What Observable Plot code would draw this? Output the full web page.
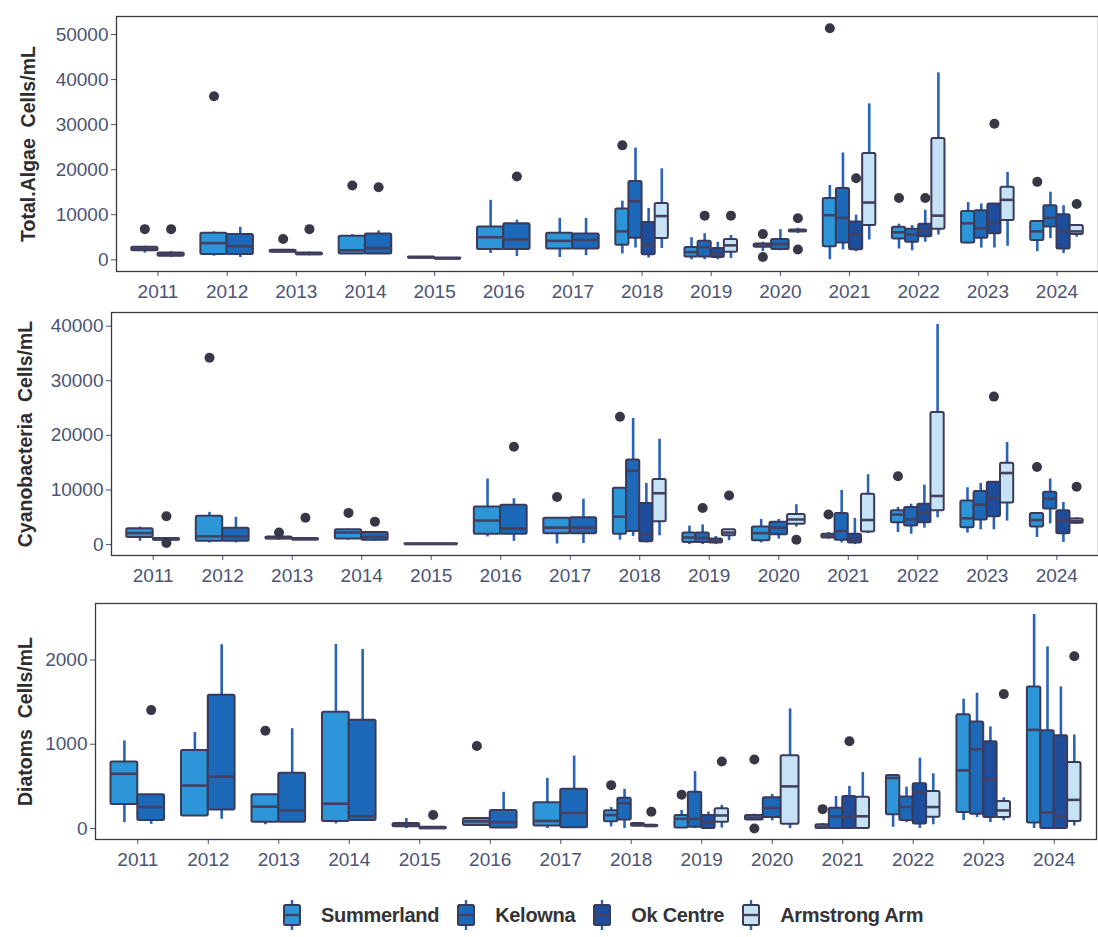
<!DOCTYPE html>
<html>
<head>
<meta charset="utf-8">
<script src="https://cdn.jsdelivr.net/npm/d3@7"></script>
<script src="https://cdn.jsdelivr.net/npm/@observablehq/plot@0.6"></script>
<style>
  html, body { margin: 0; padding: 0; background: #ffffff; }
  #page { position: relative; width: 1098px; height: 937px; overflow: hidden; font-family: "Liberation Sans", Arial, sans-serif; }
  #page svg.plot { display: block; }
  #legend { position: absolute; left: 283px; top: 899px; display: flex; align-items: center; }
  #legend .item { display: flex; align-items: center; margin-right: 18px; }
  #legend .lab { margin-left: 20px; font-size: 20px; font-weight: bold; color: #333338; letter-spacing: -0.3px; }
</style>
</head>
<body>
<div id="page"></div>
<script>
// ---------- data ----------
const years = [2011, 2012, 2013, 2014, 2015, 2016, 2017, 2018, 2019, 2020, 2021, 2022, 2023, 2024];
const siteCodes = ["S", "K", "O", "A"];
const siteNames = ["Summerland", "Kelowna", "Ok Centre", "Armstrong Arm"];
const siteColors = ["#2c96d8", "#1c69ba", "#1d4d9b", "#c6e2f5"];

// rows: [year, site, lowerWhisker, q1, median, q3, upperWhisker, outliers]
const totalAlgae = [
  [2011,"S",1500,2000,2400,2800,3000,[6800]],
  [2011,"K",500,800,1200,1500,1800,[6800]],
  [2012,"S",800,1200,3700,5900,6200,[36300]],
  [2012,"K",500,1200,3000,5600,7200,[]],
  [2013,"S",1500,1700,1900,2100,2300,[4600]],
  [2013,"K",900,1100,1300,1500,1700,[6800]],
  [2014,"S",1200,1300,2100,5200,5600,[16500]],
  [2014,"K",1300,1300,2600,5700,6400,[16100]],
  [2015,"S",300,400,500,600,700,[]],
  [2015,"K",100,200,300,400,500,[]],
  [2016,"S",1400,2300,5000,7300,13200,[]],
  [2016,"K",700,2300,4500,8000,8800,[18500]],
  [2017,"S",500,2400,4200,5900,9200,[]],
  [2017,"K",900,2400,4400,5700,9200,[]],
  [2018,"S",1300,3200,6300,11300,13000,[25400]],
  [2018,"K",2600,4800,13000,17400,24800,[]],
  [2018,"O",400,1100,3300,8300,11400,[]],
  [2018,"A",2500,4700,9700,12500,20200,[]],
  [2019,"S",0,600,1700,2700,4900,[]],
  [2019,"K",0,600,2800,4100,5800,[9800]],
  [2019,"O",0,500,1300,2500,3900,[]],
  [2019,"A",300,1700,3200,4500,5400,[9800]],
  [2020,"S",1800,2800,3200,3500,3900,[5700,600]],
  [2020,"K",2000,2300,3500,4500,6700,[]],
  [2020,"A",5800,6200,6400,6600,7000,[9200,2300]],
  [2021,"S",0,2900,9900,13600,16500,[51400]],
  [2021,"K",2200,3700,9300,15800,23700,[]],
  [2021,"O",1800,2200,5700,8400,9900,[18100]],
  [2021,"A",4400,7600,12700,23600,34600,[]],
  [2022,"S",2400,4600,6100,7200,7900,[13700]],
  [2022,"K",2000,3900,5600,6800,7600,[]],
  [2022,"O",3900,5100,6400,7900,11000,[13700]],
  [2022,"A",5500,6800,9800,26900,41500,[]],
  [2023,"S",3500,3700,8100,10700,12700,[]],
  [2023,"K",2600,4800,7000,10900,12400,[]],
  [2023,"O",2600,5800,8100,12400,12500,[30200]],
  [2023,"A",3000,8700,13300,16100,19400,[]],
  [2024,"S",1800,4300,6300,8500,8500,[17300]],
  [2024,"K",4700,7300,9300,12000,15000,[]],
  [2024,"O",1400,2400,6300,10000,12000,[]],
  [2024,"A",5000,5600,6300,7600,7600,[12400]]
];

const cyanobacteria = [
  [2011,"S",600,1300,2100,2900,3200,[]],
  [2011,"K",700,800,1000,1100,1200,[5200,300]],
  [2012,"S",300,600,1500,5200,5900,[34200]],
  [2012,"K",300,600,1500,3000,5000,[]],
  [2013,"S",800,1000,1200,1400,1600,[2200]],
  [2013,"K",700,850,1000,1100,1200,[4900]],
  [2014,"S",800,1000,2200,2700,2800,[5800]],
  [2014,"K",600,800,1400,2200,2400,[4200]],
  [2015,"S",0,50,100,150,200,[]],
  [2015,"K",0,50,100,150,200,[]],
  [2016,"S",1400,1900,4400,6900,12000,[]],
  [2016,"K",600,1900,2900,7200,8400,[17900]],
  [2017,"S",100,2000,3100,4800,4800,[8700]],
  [2017,"K",200,2000,3100,4900,8300,[]],
  [2018,"S",800,1900,5100,10300,10300,[23400]],
  [2018,"K",1500,2400,13500,15500,23100,[]],
  [2018,"O",300,500,1800,7500,11200,[]],
  [2018,"A",1600,4200,9400,11900,19300,[]],
  [2019,"S",0,400,1300,2100,3400,[]],
  [2019,"K",0,400,1200,2100,3600,[6700]],
  [2019,"O",0,300,700,1000,1500,[]],
  [2019,"A",700,1600,2200,2700,2700,[9000]],
  [2020,"S",300,700,2100,3200,4600,[]],
  [2020,"K",1000,1800,3100,4100,4600,[]],
  [2020,"A",3200,3700,4600,5500,7300,[900]],
  [2021,"S",1000,1200,1500,1900,2200,[5500]],
  [2021,"K",300,800,2500,5700,9900,[]],
  [2021,"O",0,300,1000,1900,4800,[]],
  [2021,"A",2000,2300,4500,9200,12800,[]],
  [2022,"S",2200,4000,5500,6200,6800,[12500]],
  [2022,"K",1900,3400,4600,6800,7400,[]],
  [2022,"O",3000,4000,5900,7400,10900,[]],
  [2022,"A",4900,6200,8900,24200,40300,[]],
  [2023,"S",2100,3100,4800,8000,10400,[]],
  [2023,"K",2700,4500,7300,9700,11200,[]],
  [2023,"O",2700,5100,8500,11400,11400,[27100]],
  [2023,"A",4300,7600,13100,14900,18700,[]],
  [2024,"S",1300,3200,4500,5700,5700,[14200]],
  [2024,"K",3800,6500,8400,9600,12000,[]],
  [2024,"O",400,2000,4400,6200,7700,[]],
  [2024,"A",3700,3900,4300,4700,4900,[10600]]
];

const diatoms = [
  [2011,"S",70,285,650,790,1040,[]],
  [2011,"K",50,95,255,400,400,[1405]],
  [2012,"S",150,150,510,925,1140,[]],
  [2012,"K",110,220,615,1580,2180,[]],
  [2013,"S",45,75,260,400,400,[1160]],
  [2013,"K",75,75,215,655,1185,[]],
  [2014,"S",55,85,295,1380,2185,[]],
  [2014,"K",95,95,145,1285,2125,[]],
  [2015,"S",0,20,40,60,120,[]],
  [2015,"K",0,0,5,15,25,[160]],
  [2016,"S",35,35,85,120,120,[980]],
  [2016,"K",0,5,75,215,430,[]],
  [2017,"S",0,30,90,305,595,[]],
  [2017,"K",0,10,185,465,860,[]],
  [2018,"S",20,80,160,210,250,[515]],
  [2018,"K",0,100,300,360,465,[]],
  [2018,"O",20,30,40,60,70,[]],
  [2018,"A",20,25,30,40,50,[200]],
  [2019,"S",5,5,115,155,215,[400]],
  [2019,"K",0,15,115,430,675,[]],
  [2019,"O",0,0,75,155,195,[]],
  [2019,"A",5,75,155,235,275,[795]],
  [2020,"S",100,100,130,155,170,[820,0]],
  [2020,"K",90,130,245,365,405,[]],
  [2020,"A",0,50,500,865,1420,[]],
  [2021,"S",0,0,20,45,60,[230]],
  [2021,"K",0,0,145,240,380,[]],
  [2021,"O",0,0,145,380,500,[1035]],
  [2021,"A",0,0,145,370,665,[]],
  [2022,"S",15,165,600,630,630,[]],
  [2022,"K",70,95,255,375,490,[]],
  [2022,"O",0,55,430,530,835,[]],
  [2022,"A",45,135,255,440,650,[]],
  [2023,"S",95,190,690,1350,1535,[]],
  [2023,"K",130,170,940,1265,1605,[]],
  [2023,"O",70,130,585,1030,1205,[]],
  [2023,"A",90,130,215,320,365,[1595]],
  [2024,"S",0,65,1170,1680,2540,[]],
  [2024,"K",0,0,190,1160,2155,[]],
  [2024,"O",0,0,145,1100,1680,[]],
  [2024,"A",30,85,340,785,1110,[2045]]
];

const algaeTicks = [0, 10000, 20000, 30000, 40000, 50000];
const cyanoTicks = [0, 10000, 20000, 30000, 40000];
const diatomTicks = [0, 1000, 2000];

// ---------- styling ----------
const FONT = '"Liberation Sans", Arial, sans-serif';
const OUTLINE = "#3a3a5a";
const MEDIAN = "#45405e";
const WHISKER = "#2a62b8";
const OUTLIER = "#383746";
const GROUP_W = 0.76;

function layout(rows) {
  const byYear = d3.group(rows, r => r[0]);
  return rows.map(r => {
    const grp = byYear.get(r[0]);
    const n = grp.length, i = grp.indexOf(r);
    const x1 = r[0] - GROUP_W / 2 + i * GROUP_W / n;
    return {
      year: r[0], site: siteNames[siteCodes.indexOf(r[1])],
      lo: r[2], q1: r[3], med: r[4], q3: r[5], hi: r[6], out: r[7],
      x1, x2: x1 + GROUP_W / n, xc: x1 + GROUP_W / (2 * n)
    };
  });
}

function panel(o) {
  const boxes = layout(o.rows);
  const outs = boxes.flatMap(b => b.out.map(v => ({xc: b.xc, v, site: b.site})));
  return Plot.plot({
    width: 1098, height: o.height,
    marginLeft: o.marginLeft, marginRight: o.marginRight,
    marginTop: o.marginTop, marginBottom: o.marginBottom,
    style: {fontFamily: FONT, fontSize: "19px", color: "#4b5474", background: "transparent", overflow: "visible"},
    x: {domain: [2010.4, 2024.6], ticks: years, tickFormat: d => String(d), label: null, tickSize: 5, tickPadding: 8},
    y: {domain: o.yDomain, ticks: o.yTicks, tickFormat: d => String(d), label: null, tickSize: 5, tickPadding: 3},
    color: {domain: siteNames, range: siteColors},
    marks: [
      Plot.ruleX(boxes, {x: "xc", y1: "lo", y2: "hi", stroke: WHISKER, strokeWidth: 2.6}),
      Plot.rect(boxes, {x1: "x1", x2: "x2", y1: "q1", y2: "q3", fill: "site", stroke: OUTLINE, strokeWidth: 2, rx: 1.5}),
      Plot.ruleY(boxes, {y: "med", x1: "x1", x2: "x2", stroke: MEDIAN, strokeWidth: 2.6}),
      Plot.dot(outs, {x: "xc", y: "v", r: 5, fill: OUTLIER, stroke: "none"}),
      Plot.frame({stroke: "#3a3a3a", strokeWidth: 1.3}),
      Plot.text([o.label], {text: d => d, frameAnchor: "left", dx: o.labelDx, rotate: -90, textAnchor: "middle",
        fontSize: 19.5, fontWeight: "bold", fill: "#2e2e30"})
    ]
  });
}

const page = document.getElementById("page");
page.appendChild(panel({rows: totalAlgae, yDomain: [-2600, 54000], yTicks: algaeTicks,
  label: "Total.Algae\u00a0 Cells/mL", height: 300, marginLeft: 116, marginRight: 0, marginTop: 16, marginBottom: 29, labelDx: -88}));
page.appendChild(panel({rows: cyanobacteria, yDomain: [-2000, 42500], yTicks: cyanoTicks,
  label: "Cyanobacteria\u00a0 Cells/mL", height: 288, marginLeft: 111, marginRight: 0, marginTop: 12, marginBottom: 33, labelDx: -86}));
page.appendChild(panel({rows: diatoms, yDomain: [-130, 2670], yTicks: diatomTicks,
  label: "Diatoms\u00a0 Cells/mL", height: 292, marginLeft: 95, marginRight: 2, marginTop: 15, marginBottom: 41, labelDx: -70}));

// ---------- legend ----------
const legend = d3.select(page).append("div").attr("id", "legend");
siteNames.forEach((name, i) => {
  const item = legend.append("div").attr("class", "item");
  const svg = item.append("svg").attr("width", 18).attr("height", 32);
  svg.append("line").attr("x1", 9).attr("x2", 9).attr("y1", 1).attr("y2", 31)
    .attr("stroke", WHISKER).attr("stroke-width", 2.4);
  svg.append("rect").attr("x", 1).attr("y", 6).attr("width", 16).attr("height", 20).attr("rx", 1.5)
    .attr("fill", siteColors[i]).attr("stroke", OUTLINE).attr("stroke-width", 2);
  svg.append("line").attr("x1", 1).attr("x2", 17).attr("y1", 16).attr("y2", 16)
    .attr("stroke", MEDIAN).attr("stroke-width", 2.4);
  item.append("span").attr("class", "lab").text(name);
});
</script>
</body>
</html>
